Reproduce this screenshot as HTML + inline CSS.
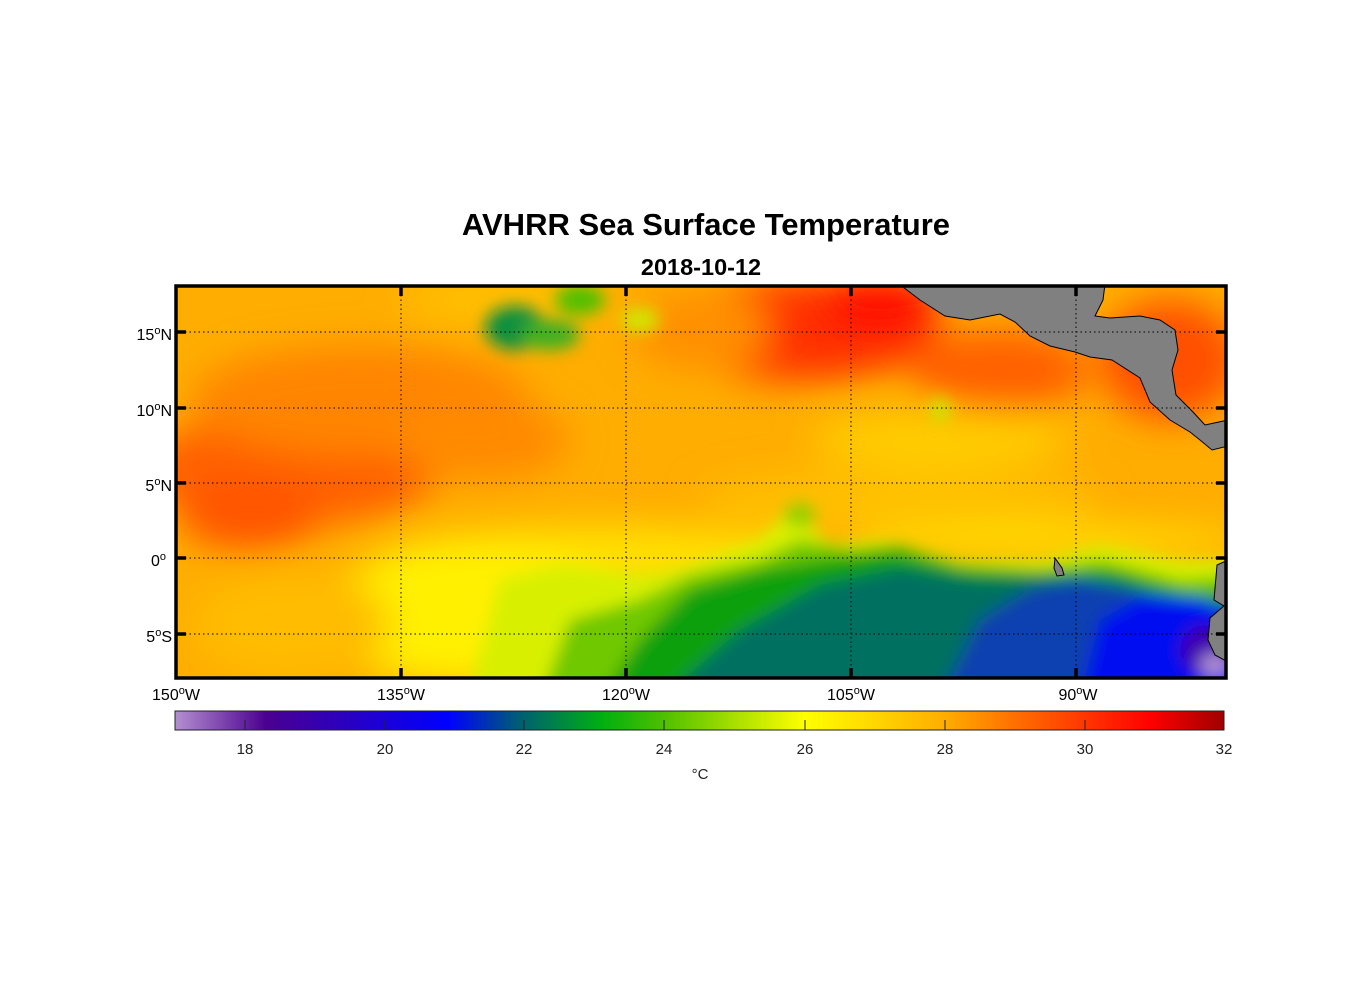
<!DOCTYPE html>
<html><head><meta charset="utf-8"><style>
html,body{margin:0;padding:0;background:#fff;}
body{width:1356px;height:1000px;position:relative;overflow:hidden;font-family:"Liberation Sans",Arial,sans-serif;}
</style></head><body>
<svg width="1356" height="1000" viewBox="0 0 1356 1000" xmlns="http://www.w3.org/2000/svg" style="position:absolute;left:0;top:0">
<defs>
<clipPath id="mc"><rect x="176" y="286" width="1050" height="392"/></clipPath>
<filter id="b1" x="-30%" y="-30%" width="160%" height="160%"><feGaussianBlur stdDeviation="18"/></filter>
<filter id="b2" x="-30%" y="-30%" width="160%" height="160%"><feGaussianBlur stdDeviation="8"/></filter>
<linearGradient id="cb" x1="0" x2="1" y1="0" y2="0">
<stop offset="0" stop-color="#b48fd0"/><stop offset="0.087" stop-color="#4b0090"/>
<stop offset="0.26" stop-color="#0000ff"/><stop offset="0.33" stop-color="#006070"/>
<stop offset="0.407" stop-color="#00b010"/><stop offset="0.467" stop-color="#50c000"/>
<stop offset="0.6" stop-color="#ffff00"/><stop offset="0.73" stop-color="#ffb000"/>
<stop offset="0.8" stop-color="#ff7000"/><stop offset="0.93" stop-color="#ff0000"/>
<stop offset="1" stop-color="#a00000"/>
</linearGradient>
</defs>
<text x="706" y="235" text-anchor="middle" font-size="31" font-weight="bold">AVHRR Sea Surface Temperature</text>
<text x="701" y="275" text-anchor="middle" font-size="23.5" font-weight="bold">2018-10-12</text>
<g clip-path="url(#mc)">
<rect x="150" y="260" width="1100" height="440" fill="#ffad00"/>
<g filter="url(#b1)">
<ellipse cx="290" cy="470" rx="150" ry="55" fill="#ff6000"/>
<ellipse cx="250" cy="515" rx="70" ry="35" fill="#ff5500"/>
<ellipse cx="360" cy="400" rx="170" ry="55" fill="#ff8500"/>
<ellipse cx="480" cy="440" rx="90" ry="40" fill="#ff8a00"/>
<ellipse cx="800" cy="330" rx="140" ry="50" fill="#ff3000"/>
<ellipse cx="880" cy="305" rx="60" ry="30" fill="#ff1000"/>
<ellipse cx="1000" cy="370" rx="90" ry="40" fill="#ff6000"/>
<ellipse cx="1170" cy="360" rx="70" ry="60" fill="#ff5000"/>
<ellipse cx="700" cy="330" rx="70" ry="40" fill="#ff9000"/>
<ellipse cx="500" cy="300" rx="100" ry="25" fill="#ffc000"/>
<ellipse cx="940" cy="440" rx="130" ry="30" fill="#ffcc00"/>
<ellipse cx="600" cy="560" rx="220" ry="35" fill="#ffe000"/>
<ellipse cx="470" cy="615" rx="150" ry="70" fill="#fff000"/>
<ellipse cx="290" cy="625" rx="100" ry="55" fill="#ffbc00"/>
<ellipse cx="900" cy="500" rx="200" ry="30" fill="#ffc000"/>
<ellipse cx="1050" cy="540" rx="200" ry="15" fill="#ffe000"/>
</g>
<g filter="url(#b2)">
<path d="M470,690 L500,580 L560,565 L640,575 L680,570 L760,540 L790,510 L830,545 L880,540 L960,560 L1040,560 L1100,545 L1180,560 L1240,560 L1240,700 Z" fill="#d8f000"/>
<path d="M540,700 L570,620 L640,600 L690,575 L760,560 L800,540 L850,550 L900,545 L960,565 L1040,570 L1100,560 L1180,580 L1240,575 L1240,700 Z" fill="#70c800"/>
<path d="M600,700 L640,640 L690,590 L760,570 L820,560 L890,550 L960,568 L1040,572 L1110,568 L1190,592 L1240,592 L1240,700 Z" fill="#10a010"/>
<path d="M660,700 L740,630 L820,585 L900,568 L980,580 L1040,578 L1120,582 L1190,605 L1240,605 L1240,700 Z" fill="#007060"/>
<path d="M940,700 L980,620 L1030,590 L1080,578 L1130,590 L1200,600 L1240,610 L1240,700 Z" fill="#0a40b0"/>
<path d="M1080,700 L1100,620 L1140,598 L1200,598 L1240,620 L1240,700 Z" fill="#0010f0"/>
<ellipse cx="1205" cy="650" rx="25" ry="25" fill="#4000b0"/>
<ellipse cx="1215" cy="665" rx="15" ry="12" fill="#b090d0"/>
<ellipse cx="515" cy="328" rx="30" ry="22" fill="#109040"/>
<ellipse cx="550" cy="335" rx="30" ry="15" fill="#40b020"/>
<ellipse cx="580" cy="300" rx="25" ry="15" fill="#50c000"/>
<ellipse cx="640" cy="320" rx="20" ry="12" fill="#d0e800"/>
<ellipse cx="940" cy="410" rx="10" ry="12" fill="#c8e800"/>
<ellipse cx="800" cy="515" rx="15" ry="12" fill="#90d000"/>
</g>
<g fill="#808080" stroke="#000" stroke-width="1">
<path d="M899,284 L920,300 L945,316 L970,320 L1000,314 L1015,322 L1030,336 L1050,346 L1075,352 L1090,357 L1112,360 L1140,378 L1150,402 L1170,420 L1190,432 L1200,440 L1212,450 L1228,446 L1228,420 L1205,425 L1193,412 L1176,395 L1172,370 L1178,350 L1175,330 L1160,320 L1140,316 L1110,318 L1095,316 L1103,300 L1105,284 Z"/>
<path d="M1055,558 L1062,568 L1064,575 L1057,576 L1054,568 Z"/>
<path d="M1228,560 L1217,565 L1214,600 L1224,606 L1210,618 L1208,640 L1215,655 L1228,662 Z"/>
</g>
</g>
<g stroke="#000" stroke-width="1" stroke-dasharray="1.5,3" fill="none">
<line x1="401" y1="286" x2="401" y2="678"/><line x1="626" y1="286" x2="626" y2="678"/>
<line x1="851" y1="286" x2="851" y2="678"/><line x1="1076" y1="286" x2="1076" y2="678"/>
<line x1="176" y1="332" x2="1226" y2="332"/><line x1="176" y1="408" x2="1226" y2="408"/>
<line x1="176" y1="483" x2="1226" y2="483"/><line x1="176" y1="558" x2="1226" y2="558"/>
<line x1="176" y1="634" x2="1226" y2="634"/>
</g>
<g stroke="#000" stroke-width="3.5">
<line x1="401" y1="286" x2="401" y2="296"/><line x1="626" y1="286" x2="626" y2="296"/><line x1="851" y1="286" x2="851" y2="296"/><line x1="1076" y1="286" x2="1076" y2="296"/>
<line x1="401" y1="668" x2="401" y2="678"/><line x1="626" y1="668" x2="626" y2="678"/><line x1="851" y1="668" x2="851" y2="678"/><line x1="1076" y1="668" x2="1076" y2="678"/>
<line x1="176" y1="332" x2="186" y2="332"/><line x1="176" y1="408" x2="186" y2="408"/><line x1="176" y1="483" x2="186" y2="483"/><line x1="176" y1="558" x2="186" y2="558"/><line x1="176" y1="634" x2="186" y2="634"/>
<line x1="1216" y1="332" x2="1226" y2="332"/><line x1="1216" y1="408" x2="1226" y2="408"/><line x1="1216" y1="483" x2="1226" y2="483"/><line x1="1216" y1="558" x2="1226" y2="558"/><line x1="1216" y1="634" x2="1226" y2="634"/>
</g>
<rect x="176" y="286" width="1050" height="392" fill="none" stroke="#000" stroke-width="3.5"/>
<g font-size="16" fill="#000">
<text x="172" y="340" text-anchor="end">15<tspan dy="-6" font-size="11">o</tspan><tspan dy="6">N</tspan></text>
<text x="172" y="416" text-anchor="end">10<tspan dy="-6" font-size="11">o</tspan><tspan dy="6">N</tspan></text>
<text x="172" y="491" text-anchor="end">5<tspan dy="-6" font-size="11">o</tspan><tspan dy="6">N</tspan></text>
<text x="166" y="566" text-anchor="end">0<tspan dy="-6" font-size="11">o</tspan></text>
<text x="172" y="642" text-anchor="end">5<tspan dy="-6" font-size="11">o</tspan><tspan dy="6">S</tspan></text>
<text x="176" y="700" text-anchor="middle">150<tspan dy="-6" font-size="11">o</tspan><tspan dy="6">W</tspan></text>
<text x="401" y="700" text-anchor="middle">135<tspan dy="-6" font-size="11">o</tspan><tspan dy="6">W</tspan></text>
<text x="626" y="700" text-anchor="middle">120<tspan dy="-6" font-size="11">o</tspan><tspan dy="6">W</tspan></text>
<text x="851" y="700" text-anchor="middle">105<tspan dy="-6" font-size="11">o</tspan><tspan dy="6">W</tspan></text>
<text x="1078" y="700" text-anchor="middle">90<tspan dy="-6" font-size="11">o</tspan><tspan dy="6">W</tspan></text>
</g>
<rect x="175" y="711" width="1049" height="19" fill="url(#cb)" stroke="#222" stroke-width="1"/>
<g stroke="#222" stroke-width="1">
<line x1="245" y1="720" x2="245" y2="730"/><line x1="385" y1="720" x2="385" y2="730"/><line x1="524" y1="720" x2="524" y2="730"/><line x1="664" y1="720" x2="664" y2="730"/><line x1="805" y1="720" x2="805" y2="730"/><line x1="945" y1="720" x2="945" y2="730"/><line x1="1085" y1="720" x2="1085" y2="730"/>
</g>
<g font-size="15" fill="#222" text-anchor="middle">
<text x="245" y="754">18</text><text x="385" y="754">20</text><text x="524" y="754">22</text><text x="664" y="754">24</text><text x="805" y="754">26</text><text x="945" y="754">28</text><text x="1085" y="754">30</text><text x="1224" y="754">32</text>
<text x="700" y="779">°C</text>
</g>
</svg>
</body></html>
